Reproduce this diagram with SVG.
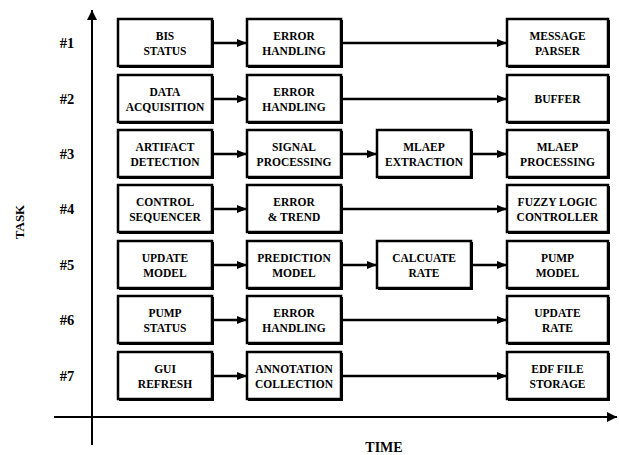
<svg xmlns="http://www.w3.org/2000/svg" width="619" height="455" viewBox="0 0 619 455">
<style>
.box{fill:#fff;stroke:#000;stroke-width:2.5}
.sh{fill:#000}
text{font-family:"Liberation Serif","DejaVu Serif","Times New Roman",serif;font-weight:bold;fill:#000;text-anchor:middle}
.t{font-size:11.5px}
.lbl{font-size:14.5px}
.c{stroke:#000;stroke-width:2.5;fill:none}
.ax{stroke:#000;stroke-width:2;fill:none}
</style>
<defs>
<marker id="ah" markerWidth="10" markerHeight="8" refX="10" refY="4" orient="auto" markerUnits="userSpaceOnUse"><path d="M0,0 L10,4 L0,8 Z" fill="#000"/></marker>
<marker id="axh" markerWidth="10" markerHeight="10" refX="10" refY="5" orient="auto" markerUnits="userSpaceOnUse"><path d="M0,0 L10,5 L0,10 Z" fill="#000"/></marker>
</defs>
<g id="axes">
<line class="ax" x1="92" y1="445" x2="92" y2="10" marker-end="url(#axh)"/>
<line class="ax" x1="54" y1="417" x2="617" y2="417" marker-end="url(#axh)"/>
<text class="lbl" x="384" y="452" style="font-size:14px">TIME</text>
<text class="lbl" x="0" y="0" style="font-size:13px" transform="translate(24,222) rotate(-90)">TASK</text>
</g>
<g id="rowlabels">
<text class="lbl" x="67" y="48">#1</text>
<text class="lbl" x="67" y="104">#2</text>
<text class="lbl" x="67" y="159">#3</text>
<text class="lbl" x="67" y="214">#4</text>
<text class="lbl" x="67" y="270">#5</text>
<text class="lbl" x="67" y="325">#6</text>
<text class="lbl" x="67" y="381">#7</text>
</g>
<g id="connectors">
<line class="c" x1="213" y1="43" x2="247" y2="43" marker-end="url(#ah)"/>
<line class="c" x1="343" y1="43" x2="507" y2="43" marker-end="url(#ah)"/>
<line class="c" x1="213" y1="99" x2="247" y2="99" marker-end="url(#ah)"/>
<line class="c" x1="343" y1="99" x2="507" y2="99" marker-end="url(#ah)"/>
<line class="c" x1="213" y1="154" x2="247" y2="154" marker-end="url(#ah)"/>
<line class="c" x1="343" y1="154" x2="377" y2="154" marker-end="url(#ah)"/>
<line class="c" x1="472" y1="154" x2="507" y2="154" marker-end="url(#ah)"/>
<line class="c" x1="213" y1="209" x2="247" y2="209" marker-end="url(#ah)"/>
<line class="c" x1="343" y1="209" x2="507" y2="209" marker-end="url(#ah)"/>
<line class="c" x1="213" y1="265" x2="247" y2="265" marker-end="url(#ah)"/>
<line class="c" x1="343" y1="265" x2="377" y2="265" marker-end="url(#ah)"/>
<line class="c" x1="472" y1="265" x2="507" y2="265" marker-end="url(#ah)"/>
<line class="c" x1="213" y1="320" x2="247" y2="320" marker-end="url(#ah)"/>
<line class="c" x1="343" y1="320" x2="507" y2="320" marker-end="url(#ah)"/>
<line class="c" x1="213" y1="376" x2="247" y2="376" marker-end="url(#ah)"/>
<line class="c" x1="343" y1="376" x2="507" y2="376" marker-end="url(#ah)"/>
</g>
<g id="n1a"><rect class="sh" x="119" y="20" width="95" height="48"/><rect class="box" x="118" y="19" width="94" height="47"/><text class="t" x="165" y="40">BIS</text><text class="t" x="165" y="55">STATUS</text></g>
<g id="n1b"><rect class="sh" x="248" y="20" width="95" height="48"/><rect class="box" x="247" y="19" width="94" height="47"/><text class="t" x="294" y="40">ERROR</text><text class="t" x="294" y="55">HANDLING</text></g>
<g id="n1d"><rect class="sh" x="508" y="20" width="102" height="48"/><rect class="box" x="507" y="19" width="101" height="47"/><text class="t" x="557.5" y="40">MESSAGE</text><text class="t" x="557.5" y="55">PARSER</text></g>

<g id="n2a"><rect class="sh" x="119" y="76" width="95" height="48"/><rect class="box" x="118" y="75" width="94" height="47"/><text class="t" x="165" y="96">DATA</text><text class="t" x="165" y="111">ACQUISITION</text></g>
<g id="n2b"><rect class="sh" x="248" y="76" width="95" height="48"/><rect class="box" x="247" y="75" width="94" height="47"/><text class="t" x="294" y="96">ERROR</text><text class="t" x="294" y="111">HANDLING</text></g>
<g id="n2d"><rect class="sh" x="508" y="76" width="102" height="48"/><rect class="box" x="507" y="75" width="101" height="47"/><text class="t" x="557.5" y="103">BUFFER</text></g>

<g id="n3a"><rect class="sh" x="119" y="131" width="95" height="48"/><rect class="box" x="118" y="130" width="94" height="47"/><text class="t" x="165" y="151">ARTIFACT</text><text class="t" x="165" y="166">DETECTION</text></g>
<g id="n3b"><rect class="sh" x="248" y="131" width="95" height="48"/><rect class="box" x="247" y="130" width="94" height="47"/><text class="t" x="294" y="151">SIGNAL</text><text class="t" x="294" y="166">PROCESSING</text></g>
<g id="n3c"><rect class="sh" x="378" y="131" width="95" height="48"/><rect class="box" x="377" y="130" width="94" height="47"/><text class="t" x="424" y="151">MLAEP</text><text class="t" x="424" y="166">EXTRACTION</text></g>
<g id="n3d"><rect class="sh" x="508" y="131" width="102" height="48"/><rect class="box" x="507" y="130" width="101" height="47"/><text class="t" x="557.5" y="151">MLAEP</text><text class="t" x="557.5" y="166">PROCESSING</text></g>

<g id="n4a"><rect class="sh" x="119" y="186" width="95" height="48"/><rect class="box" x="118" y="185" width="94" height="47"/><text class="t" x="165" y="206">CONTROL</text><text class="t" x="165" y="221">SEQUENCER</text></g>
<g id="n4b"><rect class="sh" x="248" y="186" width="95" height="48"/><rect class="box" x="247" y="185" width="94" height="47"/><text class="t" x="294" y="206">ERROR</text><text class="t" x="294" y="221">&amp; TREND</text></g>
<g id="n4d"><rect class="sh" x="508" y="186" width="102" height="48"/><rect class="box" x="507" y="185" width="101" height="47"/><text class="t" x="557.5" y="206">FUZZY LOGIC</text><text class="t" x="557.5" y="221">CONTROLLER</text></g>

<g id="n5a"><rect class="sh" x="119" y="242" width="95" height="48"/><rect class="box" x="118" y="241" width="94" height="47"/><text class="t" x="165" y="262">UPDATE</text><text class="t" x="165" y="277">MODEL</text></g>
<g id="n5b"><rect class="sh" x="248" y="242" width="95" height="48"/><rect class="box" x="247" y="241" width="94" height="47"/><text class="t" x="294" y="262">PREDICTION</text><text class="t" x="294" y="277">MODEL</text></g>
<g id="n5c"><rect class="sh" x="378" y="242" width="95" height="48"/><rect class="box" x="377" y="241" width="94" height="47"/><text class="t" x="424" y="262">CALCUATE</text><text class="t" x="424" y="277">RATE</text></g>
<g id="n5d"><rect class="sh" x="508" y="242" width="102" height="48"/><rect class="box" x="507" y="241" width="101" height="47"/><text class="t" x="557.5" y="262">PUMP</text><text class="t" x="557.5" y="277">MODEL</text></g>

<g id="n6a"><rect class="sh" x="119" y="297" width="95" height="48"/><rect class="box" x="118" y="296" width="94" height="47"/><text class="t" x="165" y="317">PUMP</text><text class="t" x="165" y="332">STATUS</text></g>
<g id="n6b"><rect class="sh" x="248" y="297" width="95" height="48"/><rect class="box" x="247" y="296" width="94" height="47"/><text class="t" x="294" y="317">ERROR</text><text class="t" x="294" y="332">HANDLING</text></g>
<g id="n6d"><rect class="sh" x="508" y="297" width="102" height="48"/><rect class="box" x="507" y="296" width="101" height="47"/><text class="t" x="557.5" y="317">UPDATE</text><text class="t" x="557.5" y="332">RATE</text></g>

<g id="n7a"><rect class="sh" x="119" y="353" width="95" height="48"/><rect class="box" x="118" y="352" width="94" height="47"/><text class="t" x="165" y="373">GUI</text><text class="t" x="165" y="388">REFRESH</text></g>
<g id="n7b"><rect class="sh" x="248" y="353" width="95" height="48"/><rect class="box" x="247" y="352" width="94" height="47"/><text class="t" x="294" y="373">ANNOTATION</text><text class="t" x="294" y="388">COLLECTION</text></g>
<g id="n7d"><rect class="sh" x="508" y="353" width="102" height="48"/><rect class="box" x="507" y="352" width="101" height="47"/><text class="t" x="557.5" y="373">EDF FILE</text><text class="t" x="557.5" y="388">STORAGE</text></g>
</svg>
